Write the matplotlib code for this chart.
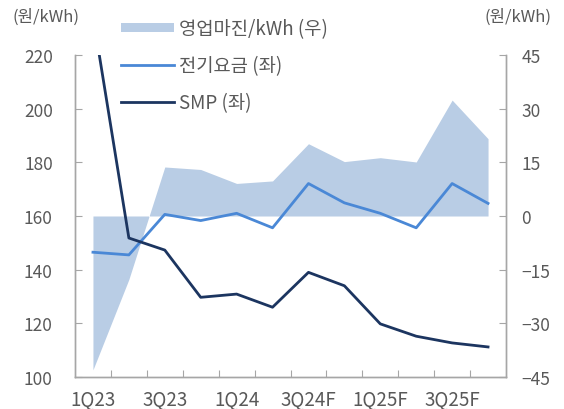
import matplotlib
matplotlib.use("Agg")
import matplotlib.pyplot as plt
from matplotlib.patches import Patch
from matplotlib.lines import Line2D

plt.rcParams['font.family'] = ['Noto Sans CJK KR', 'DejaVu Sans']

categories = ["1Q23", "2Q23", "3Q23", "4Q23", "1Q24", "2Q24",
              "3Q24F", "4Q24F", "1Q25F", "2Q25F", "3Q25F", "4Q25F"]
tariff = [146.5, 145.5, 160.6, 158.3, 161.0, 155.6, 172.1, 164.9, 161.0, 155.6, 172.1, 164.7]
smp = [234.6, 151.8, 147.3, 129.7, 130.9, 126.0, 139.0, 134.0, 119.8, 115.2, 112.7, 111.2]
margin = [-43.0, -17.7, 13.7, 13.0, 9.1, 9.8, 20.2, 15.2, 16.3, 15.1, 32.4, 21.6]
left_ticks = [100, 120, 140, 160, 180, 200, 220]
right_ticks = [-45, -30, -15, 0, 15, 30, 45]

TXT = "#595959"
SPINE = "#a6a6a6"
C_AREA = "#b9cde5"
C_TARIFF = "#4a88d6"
C_SMP = "#1c3560"

fig = plt.figure(figsize=(5.64, 4.10), dpi=100)
ax = fig.add_axes([75/564, 32/410, (506-75)/564, (378-56)/410])
ax2 = ax.twinx()

x = list(range(len(categories)))
ax2.fill_between(x, 0, margin, color=C_AREA, linewidth=0)
ax.plot(x, tariff, color=C_TARIFF, lw=2.0)
ax.plot(x, smp, color=C_SMP, lw=2.0)

ax.set_zorder(ax2.get_zorder() + 1)
ax.patch.set_visible(False)

ax.set_xlim(-0.5, len(categories) - 0.5)
ax.set_ylim(100, 220)
ax2.set_ylim(-45, 45)
ax.set_yticks(left_ticks)
ax2.set_yticks(right_ticks)

for a in (ax, ax2):
    for s in a.spines.values():
        s.set_color(SPINE)
        s.set_linewidth(1.0)
    a.spines['top'].set_visible(False)

ax.tick_params(axis='y', direction='in', length=5, color=SPINE, labelcolor=TXT,
               labelsize=12.5, pad=16)
ax2.tick_params(axis='y', direction='in', length=5, color=SPINE, labelcolor=TXT,
                labelsize=12.5, pad=11)

ax.set_xticks([i + 0.5 for i in range(len(categories) - 1)])
ax.set_xticklabels([])
ax.set_xticks(x[::2], minor=True)
ax.set_xticklabels(categories[::2], minor=True)
ax.tick_params(axis='x', which='major', direction='in', length=5, color=SPINE)
ax.tick_params(axis='x', which='minor', length=0, labelcolor=TXT, labelsize=13.5, pad=8)

fig.text(13/564, 1 - 17/410, "(원/kWh)", color=TXT, fontsize=12, ha='left', va='center')
fig.text(552/564, 1 - 17/410, "(원/kWh)", color=TXT, fontsize=12, ha='right', va='center')

handles = [Patch(facecolor=C_AREA, edgecolor='none'),
           Line2D([], [], color=C_TARIFF, lw=2.0),
           Line2D([], [], color=C_SMP, lw=2.0)]
labels = ["영업마진/kWh (우)", "전기요금 (좌)", "SMP (좌)"]
leg = fig.legend(handles, labels, loc='upper left', bbox_to_anchor=(121/564, 1 - 19/410),
                 frameon=False, fontsize=13.5, handlelength=2.8, handleheight=0.4,
                 handletextpad=0.3, labelspacing=0.85, borderaxespad=0, borderpad=0)
for t in leg.get_texts():
    t.set_color(TXT)

fig.savefig("out.png", dpi=100)
